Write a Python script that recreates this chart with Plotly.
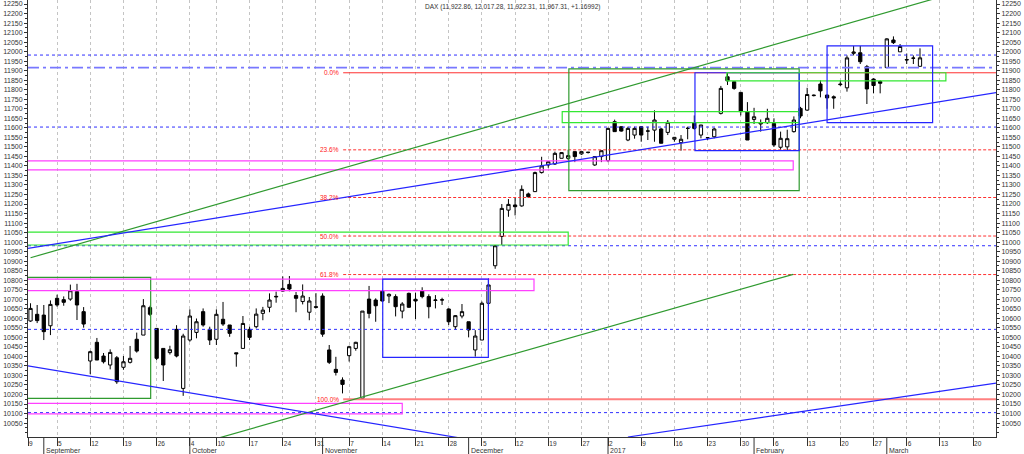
import plotly.graph_objects as go
import pandas as pd

# ---------------- data ----------------
title_text = "DAX (11,922.86, 12,017.28, 11,922.31, 11,967.31, +1.16992)"

open_ = [10586, 10621, 10617, 10561, 10705, 10698, 10701, 10740, 10635, 10376,
         10474, 10402, 10355, 10393, 10343, 10369, 10490, 10512, 10656, 10547,
         10442, 10420, 10542, 10232, 10486, 10526, 10635, 10542, 10490, 10595,
         10565, 10419, 10442, 10542, 10556, 10626, 10658, 10712, 10743, 10778,
         10720, 10688, 10632, 10661, 10717, 10434, 10332, 10276, 10404, 10442,
         10180, 10701, 10696, 10743, 10717, 10714, 10638, 10731, 10700, 10743,
         10714, 10694, 10696, 10649, 10556, 10612, 10582, 10434, 10486, 10679,
         10876, 11030, 11168, 11195, 11190, 11253, 11265, 11365, 11405, 11410,
         11440, 11440, 11475, 11463, 11472, 11405, 11449, 11428, 11632, 11606,
         11536, 11562, 11606, 11583, 11588, 11594, 11576, 11540, 11522, 11597,
         11627, 11562, 11548, 11553, 11676, 11868, 11842, 11786, 11685, 11644,
         11620, 11627, 11623, 11498, 11500, 11580, 11702, 11693, 11769, 11830,
         11772, 11763, 11830, 11810, 11991, 11994, 11921, 11856, 11843, 11916,
         12061, 11999, 11956, 11965, 11922.86]
high = [10679, 10670, 10670, 10694, 10724, 10715, 10777, 10781, 10659, 10430,
        10497, 10418, 10437, 10402, 10402, 10455, 10525, 10701, 10666, 10547,
        10442, 10456, 10564, 10519, 10647, 10599, 10652, 10556, 10647, 10686,
        10565, 10419, 10612, 10556, 10652, 10660, 10731, 10740, 10820, 10822,
        10738, 10778, 10712, 10732, 10731, 10460, 10398, 10290, 10456, 10477,
        10638, 10770, 10705, 10745, 10731, 10726, 10685, 10735, 10735, 10763,
        10726, 10722, 10708, 10652, 10617, 10675, 10582, 10538, 10688, 10810,
        10985, 11200, 11226, 11233, 11298, 11260, 11370, 11448, 11424, 11475,
        11473, 11485, 11475, 11475, 11472, 11450, 11480, 11600, 11643, 11606,
        11606, 11606, 11606, 11606, 11692, 11600, 11641, 11552, 11562, 11606,
        11665, 11615, 11548, 11600, 11820, 11890, 11842, 11786, 11735, 11705,
        11644, 11700, 11650, 11580, 11590, 11660, 11710, 11810, 11775, 11850,
        11775, 11770, 11850, 11980, 12030, 12030, 11930, 11860, 11850, 12070,
        12080, 12040, 11990, 11980, 12017.28]
low = [10582, 10575, 10486, 10512, 10661, 10666, 10692, 10591, 10551, 10307,
       10381, 10363, 10332, 10256, 10330, 10363, 10420, 10512, 10612, 10381,
       10271, 10410, 10395, 10193, 10477, 10495, 10556, 10460, 10460, 10560,
       10503, 10346, 10442, 10486, 10547, 10590, 10632, 10682, 10740, 10742,
       10632, 10673, 10590, 10652, 10503, 10360, 10300, 10206, 10373, 10430,
       10175, 10600, 10582, 10686, 10680, 10610, 10600, 10655, 10596, 10705,
       10600, 10652, 10670, 10565, 10540, 10600, 10500, 10399, 10486, 10665,
       10860, 10985, 11133, 11140, 11186, 11232, 11263, 11360, 11390, 11405,
       11440, 11430, 11420, 11458, 11465, 11400, 11420, 11420, 11580, 11580,
       11530, 11543, 11527, 11536, 11527, 11519, 11562, 11527, 11480, 11540,
       11590, 11545, 11536, 11545, 11670, 11825, 11800, 11665, 11536, 11620,
       11580, 11620, 11500, 11485, 11480, 11575, 11650, 11690, 11765, 11760,
       11700, 11700, 11820, 11790, 11980, 11935, 11725, 11781, 11781, 11916,
       12040, 11999, 11935, 11935, 11922.31]
close = [10652, 10588, 10530, 10673, 10670, 10684, 10745, 10670, 10570, 10425,
         10381, 10372, 10421, 10267, 10372, 10390, 10428, 10666, 10621, 10390,
         10355, 10435, 10402, 10507, 10612, 10582, 10565, 10486, 10621, 10570,
         10521, 10414, 10573, 10500, 10622, 10643, 10696, 10715, 10757, 10754,
         10705, 10717, 10691, 10658, 10517, 10369, 10316, 10253, 10451, 10474,
         10638, 10626, 10666, 10691, 10726, 10661, 10675, 10658, 10691, 10714,
         10661, 10696, 10697, 10582, 10614, 10635, 10539, 10507, 10679, 10775,
         10981, 11177, 11198, 11186, 11277, 11238, 11365, 11400, 11422, 11466,
         11470, 11454, 11449, 11475, 11471, 11449, 11480, 11597, 11580, 11583,
         11597, 11597, 11562, 11583, 11641, 11519, 11629, 11550, 11540, 11597,
         11597, 11615, 11548, 11594, 11807, 11847, 11807, 11685, 11536, 11658,
         11627, 11650, 11510, 11545, 11543, 11641, 11662, 11775, 11771, 11794,
         11757, 11757, 11827, 11967, 11998, 11947, 11804, 11822, 11834, 12067,
         12047, 12027, 11958, 11966, 11967.31]

# trading calendar (weekdays, exchange holidays removed)
holidays = ["2016-10-03", "2016-12-26"]
calendar = [d for d in pd.bdate_range("2016-08-30", "2017-03-31")
            if d.strftime("%Y-%m-%d") not in holidays]
dates = calendar[:len(close)]
idx = list(range(len(close)))

x_range = [-0.38, 145.45]
y_range = [9977, 12271]
y_ticks = list(range(10050, 12251, 50))
month_names = {9: "September", 10: "October", 11: "November", 12: "December",
               1: "2017", 2: "February", 3: "March"}

# analysis objects (x in trading-day index, y in index points)
blue_dotted_levels = [11982, 11604, 10981, 10542, 10105]
blue_dashdot_level = 11916
fib_high, fib_low = 11889, 10175
fib_ratios = [0.0, 23.6, 38.2, 50.0, 61.8, 100.0]
fib_start = 47.1
boxes = [  # x0, x1, y0, y1, color
    (-1, 18.1, 10180, 10815, "#2f9a2f"),
    (-1, 75.85, 10745, 10806, "#ff40ff"),
    (-1, 56.0, 10098, 10154, "#ff40ff"),
    (53.06, 68.97, 10395, 10806, "#2525ff"),
    (-1, 81.0, 10985, 11052, "#33e833"),
    (-1, 114.9, 11379, 11426, "#ff40ff"),
    (81.1, 115.8, 11270, 11909, "#2f9a2f"),
    (80.1, 115.8, 11627, 11685, "#33e833"),
    (100.1, 115.8, 11480, 11889, "#2525ff"),
    (104.9, 137.9, 11846, 11889, "#33e833"),
    (120.0, 135.9, 11627, 12030, "#2525ff"),
]
trendlines = [  # x0, y0, x1, y1, color
    (0, 10918, 140, 12316, "#2f9a2f"),
    (20, 9889, 114.9, 10831, "#2f9a2f"),
    (-1, 10964, 150, 11810, "#2525ff"),
    (-1, 10354, 70, 9941, "#2525ff"),
    (90, 9977, 150, 10283, "#2525ff"),
]

# ---------------- ticks ----------------
week_vals, week_text = [x_range[0]], ["9"]
month_vals, month_text = [], []
for k in range(1, len(calendar)):
    if k > x_range[1]:
        break
    d, p = calendar[k], calendar[k - 1]
    if d.isocalendar()[1] != p.isocalendar()[1]:
        week_vals.append(k)
        week_text.append(str(d.day))
    if d.month != p.month:
        month_vals.append(k)
        month_text.append(month_names[d.month])

# ---------------- figure ----------------
FONT = "Liberation Sans, Arial"
fig = go.Figure()
fig.add_trace(go.Candlestick(
    x=idx, open=open_, high=high, low=low, close=close,
    increasing=dict(line=dict(color="black", width=1), fillcolor="white"),
    decreasing=dict(line=dict(color="black", width=1), fillcolor="black"),
    whiskerwidth=0, showlegend=False, hoverinfo="skip"))
fig.add_trace(go.Scatter(x=[0], y=[11000], yaxis="y2", mode="markers",
                         marker=dict(opacity=0), showlegend=False, hoverinfo="skip"))

shapes = []
for lv in blue_dotted_levels:
    shapes.append(dict(type="line", xref="paper", x0=0, x1=1, yref="y", y0=lv, y1=lv,
                       line=dict(color="#3030ff", width=1, dash="3px,3px")))
shapes.append(dict(type="line", xref="paper", x0=0, x1=1, yref="y",
                   y0=blue_dashdot_level, y1=blue_dashdot_level,
                   line=dict(color="#7878ff", width=1.6, dash="11px,4px,3px,4px")))

annotations = []
for r in fib_ratios:
    lv = fib_high - (fib_high - fib_low) * r / 100.0
    if r == 0:
        ln = dict(color="#ff3030", width=1)
    elif r == 100:
        ln = dict(color="#ff8080", width=2)
    else:
        ln = dict(color="#ff3030", width=1, dash="3px,2px")
    shapes.append(dict(type="line", xref="x", yref="y", x0=fib_start, x1=150,
                       y0=lv, y1=lv, line=ln))
    annotations.append(dict(x=fib_start - 0.4, y=lv, xref="x", yref="y",
                            text=f"{r:.1f}%", showarrow=False, xanchor="right",
                            yanchor="middle",
                            font=dict(size=6.5, color="#ff2020", family=FONT)))

for x0, x1, y0, y1, c in boxes:
    shapes.append(dict(type="rect", xref="x", yref="y", x0=x0, x1=x1, y0=y0, y1=y1,
                       line=dict(color=c, width=1.2), fillcolor="rgba(0,0,0,0)"))
for x0, y0, x1, y1, c in trendlines:
    shapes.append(dict(type="line", xref="x", yref="y", x0=x0, y0=y0, x1=x1, y1=y1,
                       line=dict(color=c, width=1.2)))

b = 17 / 437.0
for mv, mt in zip(month_vals, month_text):
    shapes.append(dict(type="line", xref="x", yref="paper", x0=mv, x1=mv,
                       y0=0, y1=-b * 1.05, line=dict(color="#333333", width=1)))
    annotations.append(dict(x=mv, y=-13.5 / 437.0, xref="x", yref="paper", text=mt,
                            showarrow=False, xanchor="left", yanchor="middle",
                            xshift=0,
                            font=dict(size=7, color="#333333", family=FONT)))

annotations.append(dict(x=0.5, y=1, xref="paper", yref="paper", text=title_text,
                        showarrow=False, xanchor="center", yanchor="top", yshift=-1,
                        font=dict(size=6.5, color="#333333", family=FONT)))

tick_font = dict(size=7, color="#333333", family=FONT)
yaxis_common = dict(range=y_range, tickvals=y_ticks,
                    ticktext=[str(v) for v in y_ticks], ticks="outside", ticklen=3,
                    tickcolor="#333333", tickfont=tick_font, showgrid=False,
                    zeroline=False, showline=True, linecolor="#333333", linewidth=1,
                    minor=dict(ticks="outside", ticklen=2, dtick=25,
                               tickcolor="#333333", showgrid=False),
                    automargin=False, fixedrange=True)

fig.update_layout(
    width=1024, height=454,
    margin=dict(l=28, r=28, t=0, b=17, pad=0, autoexpand=False),
    paper_bgcolor="white", plot_bgcolor="white",
    shapes=shapes, annotations=annotations,
    xaxis=dict(range=x_range, tickvals=week_vals, ticktext=week_text,
               ticks="outside", ticklen=8, tickcolor="#333333",
               ticklabelposition="outside right", ticklabelstandoff=0,
               tickfont=dict(size=6.5, color="#333333", family=FONT),
               showgrid=True, gridcolor="#c4c4c4", griddash="3px,3px", gridwidth=1,
               showline=True, linecolor="#333333", linewidth=1, zeroline=False,
               rangeslider=dict(visible=False), automargin=False, fixedrange=True),
    yaxis=dict(side="left", **yaxis_common),
    yaxis2=dict(side="right", overlaying="y", **yaxis_common),
)

fig.write_html("out.html",
               config={"displayModeBar": False},
               post_script="document.body.style.margin='0px';"
                           "document.body.style.overflow='hidden';")
